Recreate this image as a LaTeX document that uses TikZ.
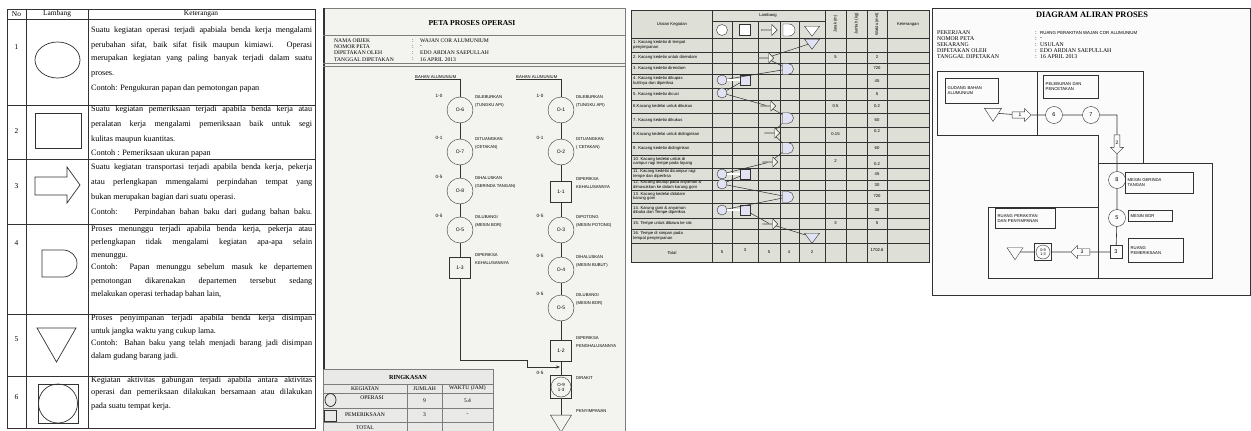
\documentclass[tikz,border=0pt]{standalone}
\usepackage{fontspec}
\setmainfont{Liberation Serif}
\setsansfont{Liberation Sans}
\usetikzlibrary{arrows.meta, shapes.geometric, shapes.arrows, shapes.misc}

\definecolor{ink}{RGB}{50,50,50}
\definecolor{lav}{RGB}{226,226,245}
\definecolor{pale}{RGB}{247,247,233}
\definecolor{paper}{RGB}{243,243,240}
\definecolor{sheet}{RGB}{222,223,215}
\definecolor{rule}{RGB}{125,125,125}

\begin{document}
\begin{tikzpicture}[x=1pt, y=1pt, yscale=-1,
  txt/.style={font=\fontsize{8.2}{9}\selectfont, inner sep=0, anchor=west},
  hdr/.style={font=\fontsize{7.4}{8}\selectfont, inner sep=0},
  sym/.style={draw=ink, line width=0.7pt},
  ttl/.style={font=\fontsize{7.6}{9}\selectfont\bfseries, inner sep=0},
  info/.style={font=\fontsize{5.6}{6}\selectfont, inner sep=0, anchor=west},
  hand/.style={font=\fontsize{4.2}{8}\selectfont\sffamily, inner sep=0, align=left, anchor=west},
  num/.style={font=\fontsize{4.6}{5}\selectfont\sffamily, inner sep=0},
  op/.style={draw=ink, circle, minimum size=26pt, inner sep=0, font=\fontsize{5}{5}\selectfont\sffamily},
  insp/.style={draw=ink, minimum width=21pt, minimum height=21pt, inner sep=0, font=\fontsize{5}{5}\selectfont\sffamily},
  flow/.style={draw=ink, line width=0.6pt},
  cell/.style={font=\fontsize{4.2}{4.6}\selectfont\sffamily, inner sep=0},
  scirc/.style={draw=ink, circle, fill=lav, minimum size=10pt, inner sep=0},
  ssq/.style={draw=ink, fill=lav, minimum size=10pt, inner sep=0},
  sarr/.style={draw=ink, single arrow, fill=pale, minimum height=15pt, minimum width=10pt, single arrow head extend=2pt, inner sep=0},
  sdel/.style={draw=ink, rounded rectangle, rounded rectangle left arc=none, fill=lav, minimum height=11pt, minimum width=8pt, inner sep=0},
  stri/.style={draw=ink, isosceles triangle, isosceles triangle stretches, shape border rotate=270, fill=lav, minimum width=15pt, minimum height=10pt, inner sep=0},
  area/.style={draw=ink, line width=0.6pt},
  tag/.style={draw=ink, font=\fontsize{4.2}{5.2}\selectfont\sffamily, align=left, inner sep=1.5pt, anchor=north west},
  op4/.style={draw=ink, circle, minimum size=17pt, inner sep=0, font=\fontsize{5.5}{5.5}\selectfont\sffamily},
  arr4/.style={draw=ink, single arrow, minimum height=19pt, minimum width=13pt, single arrow head extend=2pt, inner sep=0, font=\fontsize{5}{5}\selectfont\sffamily},
  tri4/.style={draw=ink, isosceles triangle, isosceles triangle stretches, shape border rotate=270, minimum width=17pt, minimum height=13pt, inner sep=0}
]
\useasboundingbox (0,0) rectangle (1251,431);
\fill[white] (0,0) rectangle (1251,431);

% tabel lambang
\draw[ink, line width=0.8pt] (7,9) rectangle (315,428);
\foreach \y in {19,105,159,224,314,376}
  \draw[ink, line width=0.7pt] (7,\y) -- (315,\y);
\draw[ink, line width=0.8pt] (26,9) -- (26,428) (88,9) -- (88,428);
\node[hdr] (hno) at (16.5,14) {No};
\node[hdr] (hlb) at (57,14) {Lambang};
\node[hdr] (hkt) at (201,14) {Keterangan};
\foreach \n/\y in {1/47,2/131,3/186,4/243,5/339,6/397}
  \node[hdr] (no\n) at (16.5,\y) {\n};

\foreach \y/\t [count=\i] in {
  31/{Suatu kegiatan operasi terjadi apabiala benda kerja mengalami},
  45/{perubahan sifat, baik sifat fisik maupun kimiawi. Operasi},
  59/{merupakan kegiatan yang paling banyak terjadi dalam suatu},
  110/{Suatu kegiatan pemeriksaan terjadi apabila benda kerja atau},
  125/{peralatan kerja mengalami pemeriksaan baik untuk segi},
  168/{Suatu kegiatan transportasi terjadi apabila benda kerja, pekerja},
  183/{atau perlengkapan mmengalami perpindahan tempat yang},
  213/{Contoh: \ \ Perpindahan bahan baku dari gudang bahan baku.},
  230/{Proses menunggu terjadi apabila benda kerja, pekerja atau},
  243/{perlengkapan tidak mengalami kegiatan apa-apa selain},
  268/{Contoh: Papan menunggu sebelum masuk ke departemen},
  282/{pemotongan dikarenakan departemen tersebut sedang},
  319/{Proses penyimpanan terjadi apabila benda kerja disimpan},
  344/{Contoh: Bahan baku yang telah menjadi barang jadi disimpan},
  381/{Kegiatan aktivitas gabungan terjadi apabila antara aktivitas},
  393/{operasi dan pemeriksaan dilakukan bersamaan atau dilakukan}}
  \node[txt] (kj\i) at (91,\y) {\makebox[221pt][s]{\t}};

\foreach \y/\t [count=\i] in {
  74/{proses.},
  89/{Contoh: Pengukuran papan dan pemotongan papan},
  140/{kulitas maupun kuantitas.},
  154/{Contoh : Pemeriksaan ukuran papan},
  198/{bukan merupakan bagian dari suatu operasi.},
  256/{menunggu.},
  295/{melakukan operasi terhadap bahan lain,},
  332/{untuk jangka waktu yang cukup lama.},
  357/{dalam gudang barang jadi.},
  407/{pada suatu tempat kerja.}}
  \node[txt] (kl\i) at (91,\y) {\t};

\draw[sym] (57.5,60) ellipse [x radius=22.5, y radius=18];
\draw[sym] (35,113) rectangle (81,148);
\draw[sym] (35,177) -- (67,177) -- (67,167) -- (80,185) -- (67,203) -- (67,195) -- (35,195) -- cycle;
\draw[sym] (42,250) -- (63,250) arc[start angle=-90, end angle=90, x radius=14, y radius=13.5] -- (42,277) -- cycle;
\draw[sym] (37,328) -- (76,328) -- (56.5,362) -- cycle;
\draw[sym] (38,384) rectangle (78,423);
\draw[sym] (58,403.5) circle [radius=19.5];

% peta proses operasi
\fill[paper] (323,8) rectangle (625,436);
\draw[rule, line width=0.6pt] (323,8) rectangle (625,436);
\draw[ink, line width=1.4pt] (324,8) -- (324,431);
\node[ttl] (ppo) at (472,23) {PETA PROSES OPERASI};
\draw[rule] (323,35) -- (625,35);
\draw[rule] (323,63) -- (625,63) (323,66) -- (625,66);
\foreach \y/\a/\b [count=\i] in {41/NAMA OBJEK/WAJAN COR ALUMUNIUM, 47/NOMOR PETA/-,
    53/DIPETAKAN OLEH/EDO ARDIAN SAEPULLAH, 59.5/TANGGAL DIPETAKAN/16 APRIL 2013} {
  \node[info] (pk\i) at (334,\y) {\a};
  \node[info] (pc\i) at (412,\y) {:};
  \node[info] (pv\i) at (420,\y) {\b};
}

\node[op] (o6) at (460,110) {O-6};
\node[op] (o7) at (460,152) {O-7};
\node[op] (o8) at (460,191) {O-8};
\node[op] (o5l) at (460,230) {O-5};
\node[insp] (b13) at (460,268) {1-3};
\node[op] (o1) at (561,110) {O-1};
\node[op] (o2) at (561,152) {O-2};
\node[insp] (b11) at (561,192) {1-1};
\node[op] (o3) at (561,230) {O-3};
\node[op] (o4) at (561,270) {O-4};
\node[op] (o5r) at (561,308) {O-5};
\node[insp] (b12) at (561,351) {1-2};
\node[insp, minimum height=23pt, path picture={\draw[ink] (path picture bounding box.center) circle[radius=10pt];},
      font=\fontsize{4.5}{5}\selectfont\sffamily, align=center] (cmb) at (561,387) {O-9\\1-3};
\node[draw=ink, isosceles triangle, isosceles triangle stretches, shape border rotate=270,
      minimum width=21pt, minimum height=17pt, inner sep=0] (trg) at (561,421) {};

\node[hand, anchor=south west] (srcl) at (415,79) {BAHAN ALUMUNIUM};
\node[hand, anchor=south west] (srcr) at (516,79) {BAHAN ALUMUNIUM};
\draw[flow] (srcl.south west) -- (srcl.south west -| o6) -- (o6) -- (o7) -- (o8) -- (o5l) -- (b13);
\draw[flow] (srcr.south west) -- (srcr.south west -| o1) -- (o1) -- (o2) -- (b11) -- (o3) -- (o4)
  -- (o5r) -- (b12) -- (cmb) -- (trg);
\coordinate (bend) at (527,360);
\coordinate (mrg) at (560,367);
\draw[flow, -{Stealth[length=4pt, width=3pt]}] (b13) |- (bend) |- (mrg);

\foreach \x/\y/\t [count=\i] in {460/110/1-0, 460/152/0-1, 460/191/0-5, 460/230/0-5,
    561/110/1-0, 561/152/0-1, 561/230/0-5, 561/270/0-5, 561/308/0-5, 561/387/0-5}
  \node[num] (w\i) at (\x-21,\y-14) {\t};
\foreach \x/\y/\t [count=\i] in {460/110/{DILEBURKAN\\(TUNGKU API)}, 460/152/{DITUANGKAN\\(CETAKAN)},
    460/191/{DIHALUSKAN\\(GERINDA TANGAN)}, 460/230/{DILUBANGI\\(MESIN BOR)},
    460/268/{DIPERIKSA\\KEHALUSANNYA}, 561/110/{DILEBURKAN\\(TUNGKU API)},
    561/152/{DITUANGKAN\\( CETAKAN)}, 561/192/{DIPERIKSA\\KEHALUSANNYA},
    561/230/{DIPOTONG\\(MESIN POTONG)}, 561/270/{DIHALUSKAN\\(MESIN BUBUT)},
    561/308/{DILUBANGI\\(MESIN BOR)}, 561/351/{DIPERIKSA\\PENGHALUSANNYA},
    561/387/{DIRAKIT}, 561/420/{PENYIMPANAN}}
  \node[hand] (d\i) at (\x+15,\y-9) {\t};

% ringkasan
\fill[paper!96!black] (323,369) rectangle (493,436);
\draw[rule] (323,369) rectangle (493,436);
\foreach \y in {384,393,408,422} \draw[rule] (323,\y) -- (493,\y);
\draw[rule] (407,384) -- (407,436) (442,384) -- (442,436);
\node[ttl, font=\fontsize{6.2}{7}\selectfont\bfseries] (rk) at (408,377) {RINGKASAN};
\node[info, anchor=center] (rk1) at (365,388.5) {KEGIATAN};
\node[info, anchor=center] (rk2) at (424.5,388.5) {JUMLAH};
\node[info, anchor=center] (rk3) at (467.5,388.5) {WAKTU (JAM)};
\draw[ink, line width=0.8pt] (330.5,400) ellipse [x radius=5.5, y radius=6.5];
\node[info, anchor=center] (rk4) at (372,398) {OPERASI};
\node[info, anchor=center] (rk5) at (424.5,401) {9};
\node[info, anchor=center] (rk6) at (467.5,401) {5.4};
\draw[ink, line width=0.8pt] (324,410) rectangle (336,421.5);
\node[info, anchor=center] (rk7) at (365,415) {PEMERIKSAAN};
\node[info, anchor=center] (rk8) at (424.5,415) {3};
\node[info, anchor=center] (rk9) at (467.5,415) {-};
\node[info, anchor=center] (rk10) at (365,428) {TOTAL};

% peta aliran (tabel kedelai)
\fill[sheet] (631,10) rectangle (929,262);
\draw[ink, line width=0.9pt] (631,10) rectangle (929,262);
\foreach \x in {712,825,846,867,887} \draw[ink, line width=0.6pt] (\x,10) -- (\x,262);
\foreach \x in {732,758,780,799} \draw[ink, line width=0.6pt] (\x,21) -- (\x,262);
\draw[ink, line width=0.6pt] (712,21) -- (825,21);
\foreach \y in {38,52,63,74,88,100,113,127,142,155,168,180,190,203,218,229,243}
  \draw[ink, line width=0.6pt] (631,\y) -- (929,\y);
\node[cell] (uk) at (672,24) {Uraian Kegiatan};
\node[cell] (lb) at (768,15) {Lambang};
\node[cell, rotate=90] (hj) at (835.5,24) {Jarak (m)};
\node[cell, rotate=90] (hm) at (856.5,24) {Jumlah (kg)};
\node[cell, rotate=90] (hw) at (877,24) {Waktu (mnt)};
\node[cell] (hk) at (908,24) {Keterangan};
\node[scirc, fill=white, minimum size=11pt] (hc) at (722,30) {};
\node[ssq, fill=white, minimum size=11pt] (hs) at (745,30) {};
\node[sarr, fill=white, minimum height=16pt, minimum width=11pt] (ha) at (769,30) {};
\node[sdel, fill=white, minimum height=12pt, minimum width=9pt] (hd) at (789,30) {};
\node[stri, fill=white] (ht) at (812,30) {};

\foreach \y/\t [count=\i] in {45/{1. Kacang kedelai di tempat\\penyimpanan},
    57.5/{2. Kacang kedelai untuk direndam}, 68.5/{3. Kacang kedelai direndam},
    81/{4. Kacang kedelai dikupas\\kulitnya dan diperiksa}, 94/{5. Kacang kedelai dicuci},
    106.5/{6.Kacang kedelai untuk dikukus}, 120/{7. Kacang kedelai dikukus},
    134.5/{8.Kacang kedelai untuk didinginkan}, 148.5/{9. Kacang kedelai didinginkan},
    161.5/{10. Kacang kedelai untuk di\\campur ragi tempe pada loyang},
    174/{11. Kacang kedelai dicampur ragi\\tempe dan diperiksa},
    185/{12. Kacang ditutup pada anyaman \&\\dimasukkan ke dalam karung goni},
    196.5/{13. Kacang kedelai didalam\\karung goni},
    210.5/{14. Karung goni \& anyaman\\dibuka dan Tempe diperiksa},
    223.5/{15. Tempe untuk dibawa ke rak},
    236/{16. Tempe di simpan pada\\tempat penyimpanan}}
  \node[cell, anchor=west, align=left] (u\i) at (633,\y) {\t};
\node[cell] (utot) at (672,252.5) {Total};

\node[stri] (s1) at (812,43) {};
\node[sarr] (s2) at (766,58) {};
\node[sdel] (s3) at (788,69) {};
\node[scirc] (s4c) at (722,80) {};
\node[ssq] (s4s) at (745,80) {};
\node[scirc] (s5) at (722,93) {};
\node[sarr] (s6) at (768,106) {};
\node[sdel] (s7) at (788,118) {};
\node[sarr] (s8) at (772,133) {};
\node[sdel] (s9) at (788,148) {};
\node[sarr] (s10) at (770,162) {};
\node[scirc] (s11c) at (722,174) {};
\node[ssq] (s11s) at (745,174) {};
\node[scirc] (s12) at (722,184) {};
\node[sdel] (s13) at (788,197) {};
\node[scirc] (s14c) at (722,210) {};
\node[ssq] (s14s) at (745,210) {};
\node[sarr] (s15) at (770,224) {};
\node[stri] (s16) at (812,237) {};
\draw[ink, line width=0.5pt] (s1) -- (s2) -- (s3) -- (s4c);
\draw[ink, line width=0.5pt] (s4s) -- (s5) -- (s6) -- (s7) -- (s8) -- (s9) -- (s10) -- (s11c);
\draw[ink, line width=0.5pt] (s11s) -- (s12) -- (s13) -- (s14c);
\draw[ink, line width=0.5pt] (s14s) -- (s15) -- (s16);
\foreach \a/\b in {s4c/s4s, s11c/s11s, s14c/s14s}
  \draw[ink, double, double distance=1.2pt, line width=0.4pt] (\a) -- (\b);

\foreach \x/\y/\t [count=\i] in {835.5/57.5/5, 877/57.5/2, 877/68.5/720, 877/81/45, 877/94/5,
    835.5/106.5/0.5, 877/106.5/0.2, 877/120/60, 835.5/134.5/0.15, 877/131/0.2, 877/148.5/60,
    835.5/161.5/2, 877/164/0.2, 877/174/45, 877/185/30, 877/196.5/720, 877/210.5/30,
    835.5/223.5/3, 877/223.5/5, 722/252.5/5, 745/250/3, 769/252.5/5, 789/252.5/4,
    812/252.5/2, 877/250/1702.6}
  \node[cell] (v\i) at (\x,\y) {\t};

% diagram aliran proses
\fill[white!97!gray] (932,8) rectangle (1250,295);
\draw[ink, line width=0.9pt] (932,8) rectangle (1250,295);
\node[ttl, font=\fontsize{8.4}{10}\selectfont\bfseries] (dap) at (1092,15) {DIAGRAM ALIRAN PROSES};
\foreach \y/\a/\b [count=\i] in {33/PEKERJAAN/{\sffamily\fontsize{4.4}{5}\selectfont RUANG PERAKITAN WAJAN COR ALUMUNIUM},
    39/NOMOR PETA/-, 45/SEKARANG/USULAN, 51/DIPETAKAN OLEH/EDO ARDIAN SAEPULLAH,
    57/TANGGAL DIPETAKAN/16 APRIL 2013} {
  \node[info, font=\fontsize{5.8}{6}\selectfont] (dk\i) at (937,\y) {\a};
  \node[info, font=\fontsize{5.8}{6}\selectfont] (dc\i) at (1035,\y) {:};
  \node[info, font=\fontsize{5.8}{6}\selectfont] (dv\i) at (1040,\y) {\b};
}
\draw[area] (937,71) rectangle (1037,135);
\draw[area] (1037,71) -- (1143,71) -- (1143,163);
\draw[area] (1037,135) -- (1098,135) -- (1098,278);
\draw[area] (1098,163) -- (1212,163) -- (1212,278) -- (988,278) -- (988,207) -- (1098,207);

\node[tag, minimum width=53pt, minimum height=25pt, text width=48pt] (ga) at (945,78) {GUDANG BAHAN\\ALUMUNIUM};
\node[tag, minimum width=55pt, minimum height=23pt, text width=50pt] (gb) at (1043,75) {PELEBURAN DAN\\PENCETAKAN};
\node[tag, minimum width=68pt, minimum height=21pt, text width=63pt] (gc) at (1125,172) {MESIN GERINDA\\TANGAN};
\node[tag, minimum width=44pt, minimum height=11pt, text width=39pt] (gd) at (1128,210) {MESIN BOR};
\node[tag, minimum width=55pt, minimum height=24pt, text width=50pt] (ge) at (1128,238) {RUANG\\PEMERIKSAAN};
\node[tag, minimum width=60pt, minimum height=20pt, text width=55pt] (gf) at (995,208) {RUANG PERAKITAN\\DAN PENYIMPANAN};

\node[tri4] (g1) at (993,113) {};
\node[arr4] (t1) at (1020,115) {1};
\node[op4] (p6) at (1054,115) {6};
\node[op4] (p7) at (1091,115) {7};
\node[arr4, shape border rotate=270] (t2) at (1117,143) {2};
\node[op4] (p8) at (1117,180) {8};
\node[op4] (p9) at (1117,218) {5};
\node[draw=ink, minimum width=12pt, minimum height=13pt, inner sep=0, font=\fontsize{5.5}{5.5}\selectfont\sffamily] (q3) at (1116,252) {3};
\node[arr4, shape border rotate=180] (t3) at (1082,252) {3};
\node[draw=ink, minimum width=17pt, minimum height=17pt, inner sep=0, align=center,
      font=\fontsize{3.8}{4.2}\selectfont\sffamily,
      path picture={\draw[ink] (path picture bounding box.center) circle[radius=7pt];}] (q13) at (1043,252) {0-9\\1-3};
\node[tri4, minimum width=16pt, minimum height=12pt] (g2) at (1015,252) {};
\draw[flow] (g1) -- (t1) -- (p6) -- (p7) -| (t2);
\draw[flow] (t2) -- (p8) -- (p9) -- (q3) -- (t3) -- (q13) -- (g2);
\end{tikzpicture}
\end{document}
